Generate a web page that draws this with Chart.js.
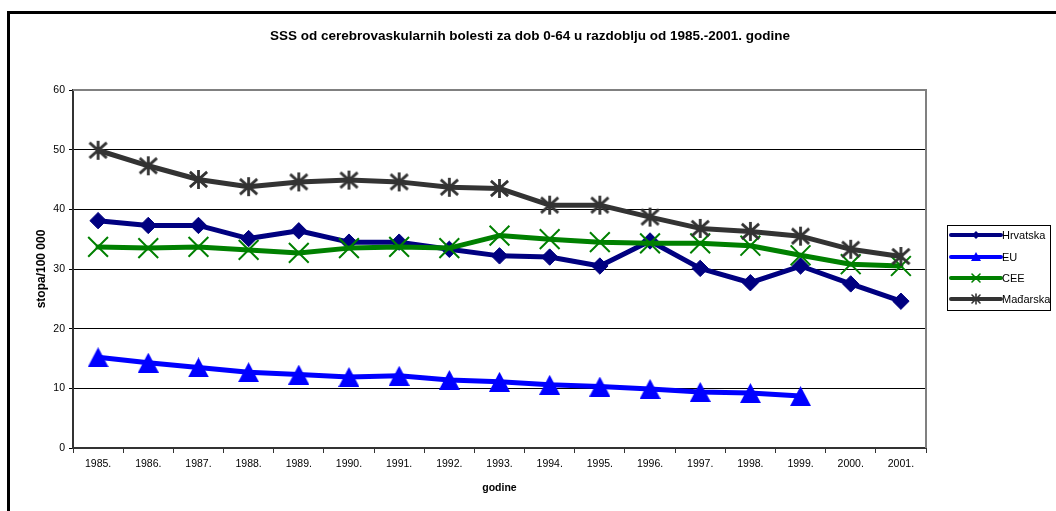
<!DOCTYPE html>
<html>
<head>
<meta charset="utf-8">
<script src="https://cdn.jsdelivr.net/npm/chart.js@4/dist/chart.umd.min.js"></script>
<style>
  html, body { margin: 0; padding: 0; background: #fff; }
  #wrap { position: relative; width: 1056px; height: 511px; overflow: hidden; background: #fff; }
  #frame { position: absolute; left: 7px; top: 11px; width: 1200px; height: 700px;
           border-left: 3px solid #000; border-top: 3px solid #000; pointer-events: none; }
  #c { position: absolute; left: 0; top: 0; }
</style>
</head>
<body>
<div id="wrap">
  <canvas id="c" width="1056" height="511"></canvas>
  <div id="frame"></div>
</div>
<script>
// Chart text
const chartTitle = 'SSS od cerebrovaskularnih bolesti za dob 0-64 u razdoblju od 1985.-2001. godine';
const xTitle = 'godine';
const yTitle = 'stopa/100 000';

// Years on the category axis
const years = ['1985.', '1986.', '1987.', '1988.', '1989.', '1990.', '1991.', '1992.', '1993.',
               '1994.', '1995.', '1996.', '1997.', '1998.', '1999.', '2000.', '2001.'];

// Rates per 100 000, ages 0-64
const hrvatska = [38.1, 37.3, 37.3, 35.1, 36.4, 34.5, 34.5, 33.3, 32.2, 32.0, 30.5, 34.7, 30.1, 27.7, 30.5, 27.5, 24.6];
const eu       = [15.2, 14.3, 13.5, 12.7, 12.3, 11.9, 12.1, 11.4, 11.1, 10.6, 10.3, 9.9, 9.4, 9.2, 8.7, null, null];
const cee      = [33.7, 33.5, 33.7, 33.2, 32.7, 33.5, 33.7, 33.5, 35.6, 35.0, 34.5, 34.3, 34.3, 33.9, 32.3, 30.8, 30.5];
const madarska = [49.9, 47.3, 45.0, 43.8, 44.6, 44.9, 44.6, 43.7, 43.5, 40.7, 40.7, 38.7, 36.8, 36.3, 35.5, 33.3, 32.1];

const seriesNames = ['Hrvatska', 'EU', 'CEE', 'Mađarska'];
const seriesColors = ['#000080', '#0000ff', '#008000', '#333333'];

const FONT = "'Liberation Sans', Arial, sans-serif";
Chart.defaults.font.family = FONT;
Chart.defaults.color = '#000';

// Filled triangle marker, centred on its bounding box
function triangleMarker(w, h, color) {
  const cv = document.createElement('canvas');
  cv.width = w; cv.height = h;
  const g = cv.getContext('2d');
  g.fillStyle = color;
  g.beginPath();
  g.moveTo(w / 2, 0);
  g.lineTo(w, h);
  g.lineTo(0, h);
  g.closePath();
  g.fill();
  return cv;
}

// Asterisk marker: vertical stroke plus a diagonal cross
function asteriskMarker(s, color, lw) {
  const cv = document.createElement('canvas');
  cv.width = s; cv.height = s;
  const g = cv.getContext('2d');
  g.strokeStyle = color;
  g.lineWidth = lw;
  const c = s / 2, m = lw / 2 + 0.5;
  g.beginPath();
  g.moveTo(c, m); g.lineTo(c, s - m);
  g.moveTo(m + 1, m + 2); g.lineTo(s - m - 1, s - m - 2);
  g.moveTo(s - m - 1, m + 2); g.lineTo(m + 1, s - m - 2);
  g.stroke();
  return cv;
}

const euTriangle = triangleMarker(21, 20, seriesColors[1]);
const huStar = asteriskMarker(23, seriesColors[3], 2.8);

// Title, plot-area outline and boxed legend
const decor = {
  id: 'decor',
  beforeDatasetsDraw(chart) {
    const { ctx, chartArea: a } = chart;
    ctx.save();
    ctx.strokeStyle = '#808080';
    ctx.lineWidth = 2;
    ctx.beginPath();
    ctx.moveTo(a.left, a.top);
    ctx.lineTo(a.right, a.top);
    ctx.lineTo(a.right, a.bottom);
    ctx.stroke();
    ctx.restore();
  },
  afterDraw(chart) {
    const ctx = chart.ctx;
    ctx.save();
    ctx.fillStyle = '#000';
    ctx.font = `bold 13.5px ${FONT}`;
    ctx.textAlign = 'center';
    ctx.textBaseline = 'middle';
    ctx.fillText(chartTitle, 530, 36);

    // legend box
    const bx = 947.5, by = 225.5, bw = 103, bh = 85;
    ctx.strokeStyle = '#000';
    ctx.lineWidth = 1;
    ctx.strokeRect(bx, by, bw, bh);

    const rows = [235, 257, 278, 299];
    const x0 = 951, x1 = 1001, xm = (x0 + x1) / 2;
    ctx.font = `11px ${FONT}`;
    ctx.textAlign = 'left';
    rows.forEach((y, i) => {
      const col = seriesColors[i];
      ctx.strokeStyle = col;
      ctx.lineWidth = 4;
      ctx.lineCap = 'round';
      ctx.beginPath();
      ctx.moveTo(x0, y); ctx.lineTo(x1, y);
      ctx.stroke();
      ctx.fillStyle = col;
      ctx.strokeStyle = col;
      ctx.lineWidth = 1.6;
      ctx.beginPath();
      if (i === 0) {
        ctx.moveTo(xm - 4, y); ctx.lineTo(xm, y - 4); ctx.lineTo(xm + 4, y); ctx.lineTo(xm, y + 4);
        ctx.closePath(); ctx.fill();
      } else if (i === 1) {
        ctx.moveTo(xm, y - 5); ctx.lineTo(xm + 5, y + 4); ctx.lineTo(xm - 5, y + 4);
        ctx.closePath(); ctx.fill();
      } else if (i === 2) {
        ctx.moveTo(xm - 4, y - 4); ctx.lineTo(xm + 4, y + 4);
        ctx.moveTo(xm + 4, y - 4); ctx.lineTo(xm - 4, y + 4);
        ctx.stroke();
      } else {
        ctx.moveTo(xm, y - 5); ctx.lineTo(xm, y + 5);
        ctx.moveTo(xm - 4, y - 4); ctx.lineTo(xm + 4, y + 4);
        ctx.moveTo(xm + 4, y - 4); ctx.lineTo(xm - 4, y + 4);
        ctx.stroke();
      }
      ctx.fillStyle = '#000';
      ctx.fillText(seriesNames[i], x1 + 1, y + 0.5);
    });
    ctx.restore();
  }
};

new Chart(document.getElementById('c'), {
  type: 'line',
  data: {
    labels: years,
    datasets: [
      {
        label: seriesNames[0], data: hrvatska, order: 4,
        borderColor: seriesColors[0], backgroundColor: seriesColors[0],
        borderWidth: 5, pointStyle: 'rectRot', pointRadius: 8.2,
        pointBackgroundColor: seriesColors[0], pointBorderColor: seriesColors[0], pointBorderWidth: 1
      },
      {
        label: seriesNames[1], data: eu, order: 3,
        borderColor: seriesColors[1], backgroundColor: seriesColors[1],
        borderWidth: 5, pointStyle: euTriangle, pointRadius: 10
      },
      {
        label: seriesNames[2], data: cee, order: 2,
        borderColor: seriesColors[2], backgroundColor: seriesColors[2],
        borderWidth: 5, pointStyle: 'crossRot', pointRadius: 14,
        pointBorderColor: seriesColors[2], pointBorderWidth: 2
      },
      {
        label: seriesNames[3], data: madarska, order: 1,
        borderColor: seriesColors[3], backgroundColor: seriesColors[3],
        borderWidth: 5, pointStyle: huStar, pointRadius: 11
      }
    ]
  },
  options: {
    responsive: false,
    animation: false,
    devicePixelRatio: 1,
    spanGaps: false,
    layout: { padding: { left: 0, top: 90, right: 130, bottom: 0 } },
    elements: { line: { tension: 0, borderJoinStyle: 'round', borderCapStyle: 'round' } },
    plugins: {
      legend: { display: false },
      title: { display: false },
      tooltip: { enabled: false }
    },
    scales: {
      x: {
        type: 'category',
        offset: true,
        grid: { offset: true, drawOnChartArea: false, drawTicks: true, tickLength: 5, color: '#333', lineWidth: 1 },
        border: { display: true, color: '#333', width: 2 },
        ticks: { color: '#000', font: { size: 10.5 }, padding: 5, maxRotation: 0, autoSkip: false },
        title: { display: true, text: xTitle, color: '#000', font: { size: 10.5, weight: 'bold' }, padding: { top: 0, bottom: 17 } },
        afterFit(s) { s.height = 63; }
      },
      y: {
        min: 0,
        max: 60,
        ticks: { stepSize: 10, color: '#000', font: { size: 10.5 }, padding: 4 },
        grid: { color: '#000', lineWidth: 1, drawTicks: true, tickLength: 4 },
        border: { display: true, color: '#333', width: 2 },
        title: { display: true, text: yTitle, color: '#000', font: { size: 12, weight: 'bold' }, padding: { top: 34, bottom: 0 } },
        afterFit(s) { s.width = 73; }
      }
    }
  },
  plugins: [decor]
});
</script>
</body>
</html>
